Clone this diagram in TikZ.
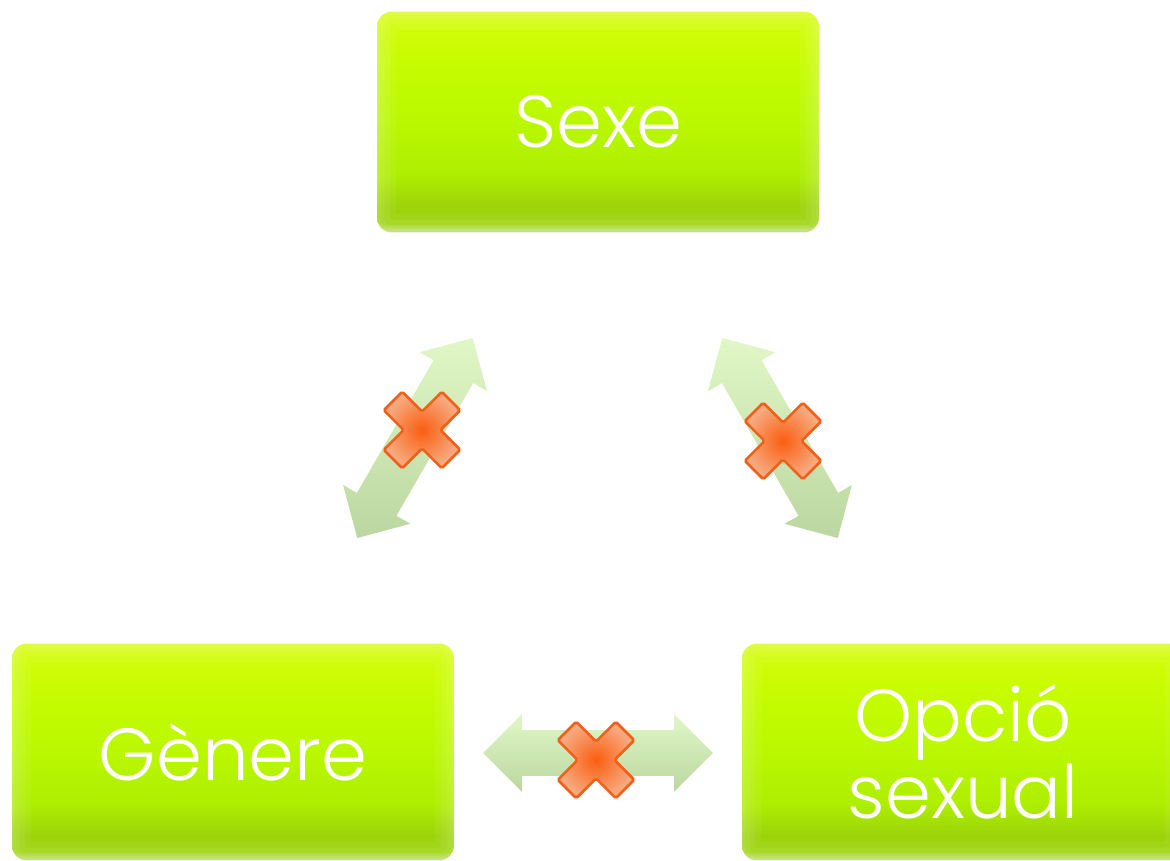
\documentclass[tikz,border=0pt]{standalone}
\usepackage{fontspec}
\setmainfont{Poppins}[UprightFont=* Light]
\usetikzlibrary{shapes.arrows}

\definecolor{boxedge}{HTML}{C4DD88}
\definecolor{boxlow}{HTML}{9CD40A}
\definecolor{boxdeep}{HTML}{AEEE00}
\definecolor{boxmid}{HTML}{BAF800}
\definecolor{boxhigh}{HTML}{C8FC00}
\definecolor{boxtop}{HTML}{D8FC10}
\definecolor{arrlight}{HTML}{DDF6C0}
\definecolor{arrdark}{HTML}{B4D296}
\definecolor{xin}{HTML}{FA5E10}
\definecolor{xout}{HTML}{F7AA80}
\definecolor{xline}{HTML}{F0601A}

\pgfdeclareverticalshading{boxshade}{100bp}{color(0bp)=(boxedge); color(25bp)=(boxedge);
  color(27bp)=(boxlow); color(31bp)=(boxlow); color(38bp)=(boxdeep); color(50bp)=(boxmid);
  color(65bp)=(boxhigh); color(75bp)=(boxtop); color(100bp)=(boxtop)}

\begin{document}
\begin{tikzpicture}[x=0.02cm,y=0.02cm,
    every node/.style={align=center,text=white,font=\fontsize{42}{44}\selectfont},
    box/.style={shape=rectangle,rounded corners=0.3cm,shading=boxshade,minimum width=8.84cm},
    glow/.style={white,opacity=0.06,rounded corners=0.3cm},
    arr/.style={double arrow,double arrow head extend=0.32cm,inner xsep=0pt,inner ysep=0.45cm,
        fill opacity=0.9,top color=arrlight,bottom color=arrdark},
    xmark/.pic={\draw[line width=1.5pt,draw=xline,inner color=xin,outer color=xout,rounded corners=1pt,rotate=45]
        (13,13) -- (41,13) -- (41,-13) -- (13,-13) -- (13,-41) -- (-13,-41) -- (-13,-13)
        -- (-41,-13) -- (-41,13) -- (-13,13) -- (-13,41) -- (13,41) -- cycle;}]
  \useasboundingbox (0,0) rectangle (1170,860);
  % boxes
  \node[box,minimum height=4.42cm] (sexe) at (598,738) {Sexe};
  \node[box,minimum height=4.34cm] (genere) at (233,108) {Gènere};
  \node[box,minimum height=4.34cm] (opcio) at (963,108) {Opció\\sexual};
  % soft light rim inside the boxes
  \foreach \b in {sexe,genere,opcio}{
    \begin{scope}
      \clip[rounded corners=0.3cm] (\b.south west) rectangle (\b.north east);
      \foreach \w in {22,15,9,4}
        \draw[glow,line width=\w pt] (\b.south west) rectangle (\b.north east);
    \end{scope}
  }
  % arrows between them
  \node[arr,minimum height=4.62cm,rotate=60] (sg) at (415,422) {};
  \node[arr,minimum height=4.62cm,rotate=120] (so) at (780,422) {};
  \node[arr,minimum height=4.60cm] (go) at (598,107) {};
  % crosses
  \pic at (422,430) {xmark};
  \pic at (783,419) {xmark};
  \pic at (596,100) {xmark};
\end{tikzpicture}
\end{document}
